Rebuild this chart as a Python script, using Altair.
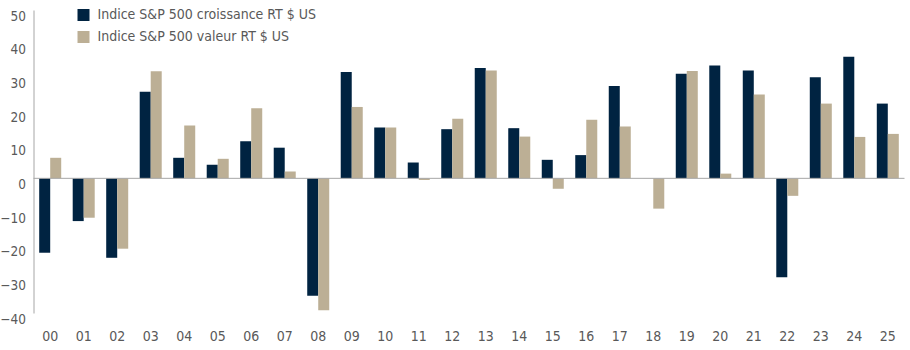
import altair as alt
import pandas as pd

years = ["00","01","02","03","04","05","06","07","08","09","10","11","12",
         "13","14","15","16","17","18","19","20","21","22","23","24","25"]
growth = [-22.1, -12.7, -23.6, 25.7, 6.1, 4.0, 11.0, 9.1, -34.9, 31.6, 15.1, 4.7, 14.6,
          32.8, 14.9, 5.5, 6.9, 27.4, -0.01, 31.1, 33.5, 32.0, -29.4, 30.0, 36.1, 22.2]
value = [6.1, -11.7, -20.9, 31.8, 15.7, 5.8, 20.8, 2.0, -39.2, 21.2, 15.1, -0.5, 17.7,
         32.0, 12.4, -3.1, 17.4, 15.4, -9.0, 31.9, 1.4, 24.9, -5.2, 22.2, 12.3, 13.2]
series = ["Indice S&P 500 croissance RT $ US", "Indice S&P 500 valeur RT $ US"]
colors = ["#002341", "#BCAF95"]
y_ticks = [50, 40, 30, 20, 10, 0, -10, -20, -30, -40]

rows = []
for i, yr in enumerate(years):
    rows.append({"year": yr, "series": series[0], "v": growth[i]})
    rows.append({"year": yr, "series": series[1], "v": value[i]})
df = pd.DataFrame(rows)

FONT = "Liberation Sans Narrow, DejaVu Sans Condensed, sans-serif"
LAB = "#595959"

yaxis = alt.Axis(title=None, values=y_ticks, grid=False, ticks=False,
                 domainColor="#A6A6A6", labelPadding=8, labelOffset=6,
                 labelFontSize=13.5, labelColor=LAB, labelFont=FONT,
                 labelOverlap=False, labelFlush=False)
yscale = alt.Scale(domain=[-40, 50], nice=False)

bars = alt.Chart(df).mark_bar().encode(
    x=alt.X("year:N", sort=years,
            scale=alt.Scale(paddingInner=0.343, paddingOuter=0.17),
            axis=alt.Axis(title=None, domain=False, ticks=False, labelAngle=0,
                          labelPadding=16, labelFontSize=14, labelColor=LAB,
                          labelFont=FONT, labelOverlap=False)),
    xOffset=alt.XOffset("series:N", sort=series),
    y=alt.Y("v:Q", scale=yscale, axis=yaxis),
    color=alt.Color("series:N", sort=series,
                    scale=alt.Scale(domain=series, range=colors),
                    legend=alt.Legend(title=None, orient="none", legendX=43, legendY=-2,
                                      symbolType="square", symbolSize=144,
                                      symbolStrokeWidth=0, labelFontSize=14,
                                      labelColor=LAB, labelFont=FONT, rowPadding=8,
                                      labelOffset=7, padding=0, labelLimit=0)),
)

zero = alt.Chart(pd.DataFrame({"z": [0]})).mark_rule(color="#A6A6A6", strokeWidth=1).encode(
    y=alt.Y("z:Q", scale=yscale, axis=yaxis)
)

chart = alt.layer(bars, zero).properties(
    width=871, height=303,
    autosize=alt.AutoSizeParams(type="none"),
    padding={"left": 33.5, "top": 10, "right": 5.5, "bottom": 37},
).configure_view(stroke=None)

chart.save("out.html", embed_options={"renderer": "svg", "actions": False})
